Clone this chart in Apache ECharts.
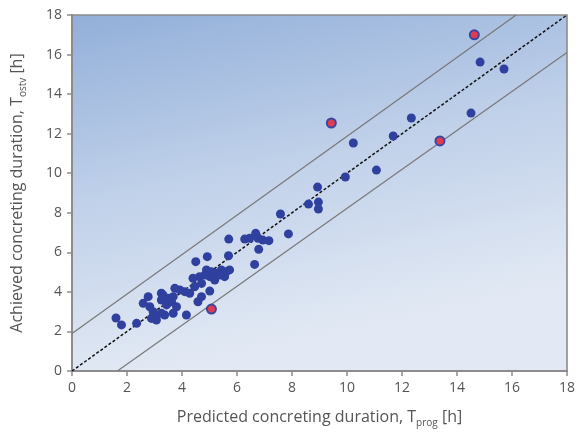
<!DOCTYPE html>
<html>
<head>
<meta charset="utf-8">
<script src="https://cdn.jsdelivr.net/npm/echarts@6/dist/echarts.min.js"></script>
<style>
html,body{margin:0;padding:0;background:#fff;}
#c{width:578px;height:433px;}
</style>
</head>
<body>
<div id="c"></div>
<script>
// Predicted (x) vs achieved (y) concreting durations [h]
var bluePoints = [
  [1.60,2.68],[1.80,2.33],[2.35,2.41],[2.59,3.42],[2.77,3.76],[2.83,3.25],[2.95,3.00],
  [3.07,2.83],[3.25,2.92],[3.37,2.83],[2.89,2.66],[3.07,2.58],[3.25,3.93],[3.31,3.84],
  [3.25,3.59],[3.49,3.68],[3.68,3.76],[3.44,3.34],[3.62,3.50],[3.80,3.25],[3.68,2.92],
  [3.74,4.18],[3.92,4.10],[4.10,4.01],[4.28,3.93],[4.16,2.83],[4.58,3.50],[4.71,3.76],
  [5.01,4.04],[4.46,4.26],[4.71,4.43],[4.40,4.69],[4.64,4.77],[5.19,4.60],[4.83,4.85],
  [5.01,4.77],[4.89,5.11],[5.07,5.02],[5.25,4.94],[5.43,5.11],[5.61,5.02],[5.73,5.11],
  [5.37,4.85],[5.55,4.77],[4.50,5.53],[4.92,5.78],[5.69,5.83],[5.70,6.67],[6.28,6.67],
  [6.46,6.71],[6.68,6.96],[6.76,6.71],[6.94,6.62],[7.16,6.59],[6.79,6.15],[6.64,5.39],
  [7.58,7.94],[7.87,6.93],[8.60,8.44],[8.96,8.54],[8.96,8.19],[8.93,9.30],[9.94,9.81],
  [11.07,10.16],[10.23,11.53],[11.68,11.88],[12.34,12.79],[14.51,13.04],[14.84,15.62],
  [15.71,15.27]
];
var redPoints = [[14.63,17.0],[9.43,12.54],[13.38,11.63],[5.07,3.13]];
var equalityLine = [[0,0],[18,18]];
var upperBand = [[0,1.9],[16.15,18]];
var lowerBand = [[1.65,0],[18,16.1]];
var axisTicks = {min:0, max:18, interval:2};
var xName = 'Predicted concreting duration, T{sub|prog} [h]';
var yName = 'Achieved concreting duration, T{sub|ostv} [h]';

var chart = echarts.init(document.getElementById('c'), null, {renderer:'canvas'});
var font = '"Open Sans", "Noto Sans", sans-serif';
var axisCommon = {
  type:'value', min:axisTicks.min, max:axisTicks.max, interval:axisTicks.interval,
  nameLocation:'middle',
  axisLine:{show:true, lineStyle:{color:'#8c8c8c', width:2}},
  axisTick:{show:true, length:5, lineStyle:{color:'#8c8c8c', width:1.5}},
  splitLine:{show:false},
  axisLabel:{color:'#555', fontSize:14, fontFamily:font}
};
chart.setOption({
  animation:false,
  grid:{left:72, top:15, right:10, bottom:62, show:true, borderColor:'#8c8c8c', borderWidth:1.6,
    backgroundColor:{type:'linear', x:0, y:0, x2:0.15, y2:1,
      colorStops:[{offset:0, color:'#92afd9'},{offset:0.5, color:'#bfd0e9'},{offset:1, color:'#e2e9f4'}]}},
  xAxis:Object.assign({}, axisCommon, {
    name:xName, nameGap:35,
    nameTextStyle:{color:'#555', fontSize:16, fontFamily:font,
      rich:{sub:{fontSize:10, color:'#555', fontFamily:font, padding:[12,0,0,0]}}},
    axisLabel:Object.assign({}, axisCommon.axisLabel, {margin:10})
  }),
  yAxis:Object.assign({}, axisCommon, {
    name:yName, nameGap:44,
    nameTextStyle:{color:'#555', fontSize:16, fontFamily:font,
      rich:{sub:{fontSize:10, color:'#555', fontFamily:font, padding:[12,0,0,0]}}},
    axisLabel:Object.assign({}, axisCommon.axisLabel, {margin:10})
  }),
  series:[
    {type:'line', data:upperBand, symbol:'none', lineStyle:{color:'#7a7a7a', width:1.3}, z:2},
    {type:'line', data:lowerBand, symbol:'none', lineStyle:{color:'#7a7a7a', width:1.3}, z:2},
    {type:'line', data:equalityLine, symbol:'none', lineStyle:{color:'#111', width:1.5, type:[3,2]}, z:3},
    {type:'scatter', data:bluePoints, symbolSize:9, itemStyle:{color:'#30409e', opacity:1}, z:4},
    {type:'scatter', data:redPoints, symbolSize:9, itemStyle:{color:'#e23a4e', borderColor:'#3b46a0', borderWidth:2, opacity:1}, z:5}
  ]
});
</script>
</body>
</html>
